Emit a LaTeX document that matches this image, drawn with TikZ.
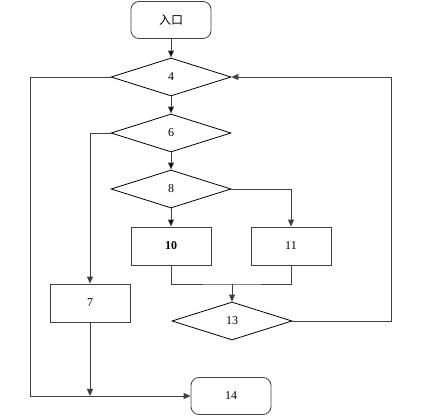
\documentclass[tikz,border=0pt]{standalone}
\usepackage{fontspec}
\setmainfont{Liberation Serif}
\newfontfamily\cjk{Noto Sans CJK SC}
\usetikzlibrary{shapes.geometric,arrows.meta}
\tikzset{
  >={Triangle[length=7pt,width=6pt]},
  terminal/.style={draw=black!75,rounded corners=8pt,minimum width=80pt,minimum height=37pt,inner sep=0pt},
  decision/.style={draw,diamond,minimum width=120pt,minimum height=38pt,inner sep=0pt},
  process/.style={draw=black!75,minimum width=80pt,minimum height=38pt,inner sep=0pt},
}

\begin{document}
\begin{tikzpicture}[
  x=1pt,y=-1pt,
  line width=0.8pt,
  every node/.style={font=\fontsize{12}{14}\selectfont},
  link/.style={draw=black!75,line width=0.9pt}
]
\useasboundingbox (0,0) rectangle (423,419);

\node[terminal] (entry) at (171,20) {\cjk 入口};
\node[decision] (d4) at (171,77) {4};
\node[decision] (d6) at (171,133) {6};
\node[decision] (d8) at (171,189) {8};
\node[process] (b10) at (171,246) {\textbf{10}};
\node[process] (b11) at (291,246) {11};
\node[process] (b7) at (90,303) {7};
\node[decision] (d13) at (232,321) {13};
\node[terminal] (e14) at (231,396) {14};

\coordinate (join) at (232,284);
\coordinate (rt) at (391,77);
\coordinate (lb) at (30,396);
\coordinate (m7) at (90,396);

\path[link]
(entry) edge[->] (d4)
(d4) edge[->] (d6)
(d6) edge[->] (d8)
(d8) edge[->] (b10);

\draw[link,->] (d8.east) -| (b11.north);
\draw[link] (b10.south) |- (join) -| (b11.south);
\draw[link,->] (join) -- (d13.north);
\draw[link,->] (d13.east) -| (rt) -- (d4.east);
\draw[link,->] (d6.west) -| (b7.north);
\draw[link,->] (b7.south) -- (m7);
\draw[link,->] (d4.west) -| (lb) -- (e14.west);

\end{tikzpicture}
\end{document}
